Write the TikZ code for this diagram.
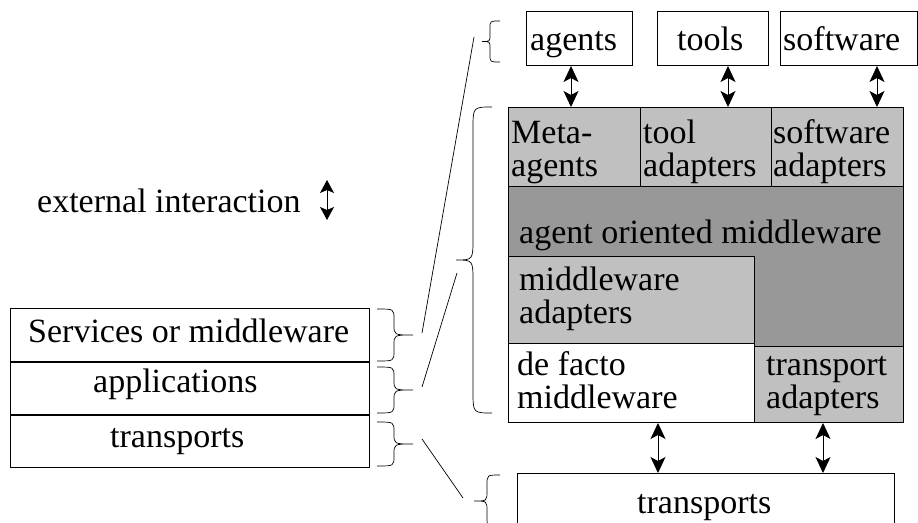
\documentclass[tikz,border=0pt]{standalone}
\usepackage{fontspec}
\setmainfont{Liberation Serif}
\usetikzlibrary{arrows.meta}

\definecolor{lightfill}{HTML}{C0C0C0}
\definecolor{darkfill}{HTML}{989898}

% curly brace: ends at x=#1, from y=#2 to y=#3, spine at x=#4, tip at x=#5, corner radius #6
\newcommand{\curlybrace}[6]{%
  \draw[thinline] (#1,#2) .. controls (#4,#2) .. (#4,#2+#6)
    -- (#4,{(#2+#3)/2-#6}) .. controls (#4,{(#2+#3)/2}) .. (#5,{(#2+#3)/2})
    .. controls (#4,{(#2+#3)/2}) .. (#4,{(#2+#3)/2+#6})
    -- (#4,#3-#6) .. controls (#4,#3) .. (#1,#3);}

\begin{document}
\begin{tikzpicture}[x=1pt,y=-1pt,
  font=\fontsize{34}{33}\selectfont,
  box/.style={draw=black,line width=1pt,inner sep=0pt,anchor=north west},
  label/.style={inner sep=0pt,anchor=base west,align=left},
  dblarrow/.style={line width=0.8pt,{Stealth[length=16pt,width=15pt,inset=4pt]}-{Stealth[length=16pt,width=15pt,inset=4pt]}},
  thinline/.style={line width=0.7pt},
]
\useasboundingbox (0,0) rectangle (918,522);

% ---- external entities on top
\node[box,minimum width=106pt,minimum height=54pt] (agents) at (526,11) {};
\node[label] at (530,50) {agents};
\node[box,minimum width=111pt,minimum height=54pt] (tools) at (657,11) {};
\node[label] at (677,50) {tools};
\node[box,minimum width=137pt,minimum height=54pt] (soft) at (780,11) {};
\node[label] at (783,50) {software};

% ---- layered middleware block
\node[box,fill=darkfill,minimum width=395pt,minimum height=160pt] (aom) at (508,186) {};
\node[label] at (519,243) {agent oriented middleware};

\node[box,fill=lightfill,minimum width=132pt,minimum height=79pt] (meta) at (508,107) {};
\node[box,fill=lightfill,minimum width=131pt,minimum height=79pt] (tooladp) at (640,107) {};
\node[box,fill=lightfill,minimum width=132pt,minimum height=79pt] (softadp) at (771,107) {};
\node[label] at (511,176) {Meta-\\agents};
\node[label] at (643,176) {tool\\adapters};
\node[label] at (773,176) {software\\adapters};

\node[box,fill=lightfill,minimum width=246pt,minimum height=87pt] (mwadp) at (508,256) {};
\node[label] at (519,323) {middleware\\adapters};

\node[box,fill=white,minimum width=246pt,minimum height=79pt] (defacto) at (508,343) {};
\node[label] at (517,408) {de facto\\middleware};
\node[box,fill=lightfill,minimum width=149pt,minimum height=76pt] (tradp) at (754,346) {};
\node[label] at (766,408) {transport\\adapters};

% ---- transports at the bottom
\node[box,minimum width=377pt,minimum height=60pt] (trans) at (517,473) {};
\node[label] at (637,513) {transports};

% ---- interaction arrows
\draw[dblarrow] (571,0 |- agents.south) -- (571,0 |- meta.north);
\draw[dblarrow] (728,0 |- tools.south) -- (728,0 |- tooladp.north);
\draw[dblarrow] (877,0 |- soft.south) -- (877,0 |- softadp.north);
\draw[dblarrow] (658,0 |- defacto.south) -- (658,0 |- trans.north);
\draw[dblarrow] (823,0 |- tradp.south) -- (823,0 |- trans.north);

% ---- legend
\node[label] (legend) at (37,212) {external interaction};
\coordinate (legtop) at (327,180);
\coordinate (legbot) at (327,220);
\draw[line width=0.8pt,{Stealth[length=13pt,width=14pt,inset=3pt]}-{Stealth[length=13pt,width=14pt,inset=3pt]}] (legtop) -- (legbot);

% ---- conventional stack on the left
\node[box,minimum width=359pt,minimum height=53pt] (services) at (10,308) {};
\node[label] at (28,342) {Services or middleware};
\node[box,minimum width=359pt,minimum height=52pt] (apps) at (10,362) {};
\node[label] at (93,392) {applications};
\node[box,minimum width=359pt,minimum height=52pt] (ltrans) at (10,415) {};
\node[label] at (110,447) {transports};

% ---- braces
\curlybrace{377}{309}{361}{394}{413}{10}
\curlybrace{377}{367}{413}{394}{413}{10}
\curlybrace{377}{422}{466}{394}{413}{10}
\curlybrace{500}{21}{62}{490}{482}{7}
\curlybrace{492}{107}{413}{473}{456}{22}
\curlybrace{500}{475}{527}{487}{474}{10}

% ---- correspondence lines
\coordinate (s1) at (422,333);
\coordinate (e1) at (474,37);
\coordinate (s2) at (422,387);
\coordinate (e2) at (457,273);
\coordinate (s3) at (422,439);
\coordinate (e3) at (463,498);
\draw[thinline] (s1) -- (e1);
\draw[thinline] (s2) -- (e2);
\draw[thinline] (s3) -- (e3);
\end{tikzpicture}
\end{document}
